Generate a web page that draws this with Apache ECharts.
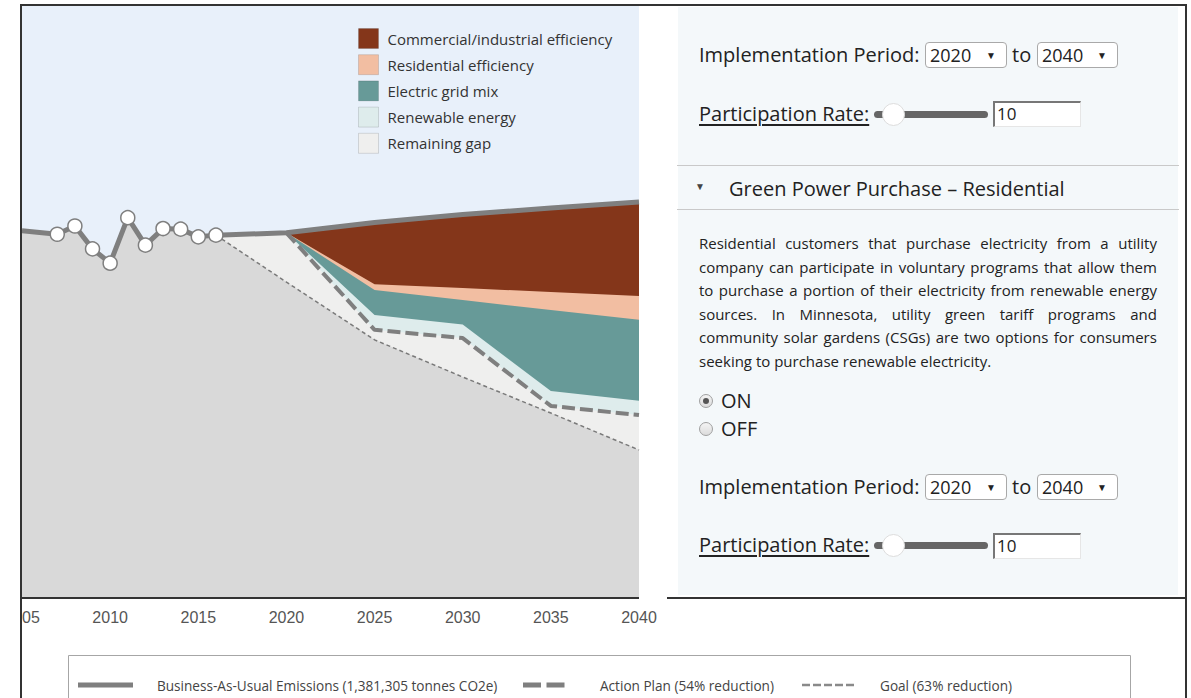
<!DOCTYPE html>
<html>
<head>
<meta charset="utf-8">
<script src="https://cdn.jsdelivr.net/npm/echarts@6/dist/echarts.min.js"></script>
<style>
html,body{margin:0;padding:0;background:#fff;width:1191px;height:698px;overflow:hidden;font-family:'Open Sans',sans-serif;}
#chart{position:absolute;left:22px;top:0;width:1169px;height:698px;}
.ln{position:absolute;background:#333;z-index:6;}
#panel{position:absolute;left:678px;top:7px;width:500px;height:588px;background:#f4f8fa;z-index:4;color:#222;}
.abs{position:absolute;white-space:nowrap;}
.big{font-size:20px;line-height:26px;}
.sel{position:absolute;background:#fff;border:1px solid #a9a9a9;border-radius:4px;height:24px;box-sizing:content-box;font-size:18px;line-height:24px;}
.sel .v{position:absolute;left:4px;top:0;}
.sel .a{position:absolute;right:10px;top:0;font-size:10px;line-height:24px;color:#222;}
.u{text-decoration:underline;text-underline-offset:3px;}
.track{position:absolute;height:7px;background:#666;border-radius:4px;}
.thumb{position:absolute;width:23px;height:23px;border-radius:50%;background:#fff;border:1px solid #ddd;box-sizing:border-box;}
.inp{position:absolute;background:#fff;border-top:2px solid #777;border-left:2px solid #777;border-bottom:1px solid #e6e6e6;border-right:1px solid #e6e6e6;box-sizing:border-box;font-size:17px;line-height:22px;padding-left:2px;}
.sep{position:absolute;left:-1px;width:502px;height:1px;background:#c9c9c9;}
.body{position:absolute;left:21px;width:458px;font-size:15px;line-height:23.6px;}
.jl{display:flex;justify-content:space-between;white-space:nowrap;}
.radio{position:absolute;width:14px;height:14px;border-radius:50%;border:1px solid #a0a0a0;box-sizing:border-box;background:linear-gradient(#f4f4f4,#dcdcdc);}
.radio.on::after{content:'';position:absolute;left:3px;top:3px;width:6px;height:6px;border-radius:50%;background:#555;}
</style>
</head>
<body>
<div id="chart"></div>

<div class="ln" style="left:20px;top:4px;width:2px;height:694px;"></div>
<div class="ln" style="left:20px;top:4px;width:1167px;height:2px;"></div>
<div class="ln" style="left:1185px;top:4px;width:2px;height:694px;"></div>
<div class="ln" style="left:20px;top:597px;width:619px;height:2px;"></div>
<div class="ln" style="left:667px;top:597px;width:520px;height:2px;"></div>

<div id="panel">
  <div class="abs big" style="left:21px;top:35px;">Implementation Period:</div>
  <div class="sel" style="left:247px;top:35px;width:80px;"><span class="v">2020</span><span class="a">&#9660;</span></div>
  <div class="abs big" style="left:334px;top:35px;">to</div>
  <div class="sel" style="left:359px;top:35px;width:79px;"><span class="v">2040</span><span class="a">&#9660;</span></div>

  <div class="abs big u" style="left:21px;top:94px;">Participation Rate:</div>
  <div class="track" style="left:196px;top:104px;width:114px;"></div>
  <div class="thumb" style="left:204px;top:96px;"></div>
  <div class="inp" style="left:315px;top:94px;width:88px;height:26px;">10</div>

  <div class="sep" style="top:158px;"></div>
  <div class="abs" style="left:17px;top:172px;font-size:10px;line-height:14px;color:#444;">&#9660;</div>
  <div class="abs big" style="left:51px;top:169px;">Green Power Purchase – Residential</div>
  <div class="sep" style="top:202px;"></div>

  <div class="body" id="bodytext" style="top:225px;"></div>

  <div class="radio on" style="left:21px;top:387px;"></div>
  <div class="abs big" style="left:43px;top:381px;">ON</div>
  <div class="radio" style="left:21px;top:415px;"></div>
  <div class="abs big" style="left:43px;top:409px;">OFF</div>

  <div class="abs big" style="left:21px;top:467px;">Implementation Period:</div>
  <div class="sel" style="left:247px;top:467px;width:80px;"><span class="v">2020</span><span class="a">&#9660;</span></div>
  <div class="abs big" style="left:334px;top:467px;">to</div>
  <div class="sel" style="left:359px;top:467px;width:79px;"><span class="v">2040</span><span class="a">&#9660;</span></div>

  <div class="abs big u" style="left:21px;top:525px;">Participation Rate:</div>
  <div class="track" style="left:196px;top:535px;width:114px;"></div>
  <div class="thumb" style="left:204px;top:527px;"></div>
  <div class="inp" style="left:315px;top:526px;width:88px;height:26px;">10</div>
</div>

<script>
// ---------- data (tonnes CO2e, thousands) ----------
const histYears = [2005, 2006, 2007, 2008, 2009, 2010, 2011, 2012, 2013, 2014, 2015, 2016];
const bauHistorical = [1280, 1274, 1268, 1297, 1217, 1167, 1326, 1230, 1288, 1286, 1259, 1265];
const markerYears = [2007, 2008, 2009, 2010, 2011, 2012, 2013, 2014, 2015, 2016];
const projYears = [2020, 2025, 2030, 2035, 2040];
const bauProjected = [1273, 1309, 1337, 1360, 1381];
const afterCommercialIndustrial = [1273, 1093, 1080, 1066, 1052];
const afterResidential = [1273, 1073, 1038, 1003, 969];
const afterGridMix = [1273, 986, 953, 720, 686];
const actionPlan = [1273, 934, 905, 668, 636];
const goalPath = [1101, 899, 769, 643, 514];

const areaNames = ['Commercial/industrial efficiency', 'Residential efficiency', 'Electric grid mix', 'Renewable energy', 'Remaining gap'];
const areaColors = ['#84361a', '#f2bea2', '#679a98', '#deecec', '#efefee'];
const lineLegend = ['Business-As-Usual Emissions (1,381,305 tonnes CO2e)', 'Action Plan (54% reduction)', 'Goal (63% reduction)'];

const bodyLines = [
  'Residential customers that purchase electricity from a utility',
  'company can participate in voluntary programs that allow them',
  'to purchase a portion of their electricity from renewable energy',
  'sources. In Minnesota, utility green tariff programs and',
  'community solar gardens (CSGs) are two options for consumers',
  'seeking to purchase renewable electricity.'
];

// ---------- panel text ----------
const bt = document.getElementById('bodytext');
bodyLines.forEach((l, i) => {
  const d = document.createElement('div');
  if (i < bodyLines.length - 1) {
    d.className = 'jl';
    l.split(' ').forEach(w => { const s = document.createElement('span'); s.textContent = w; d.appendChild(s); });
  } else {
    d.textContent = l;
  }
  bt.appendChild(d);
});

// ---------- chart ----------
const zip = (xs, ys) => xs.map((x, i) => [x, ys[i]]);
const hist = zip(histYears, bauHistorical);
const last = hist[hist.length - 1];

function areaSeries(name, color, data, z) {
  return {
    name, type: 'line', data, color, symbol: 'none', z,
    lineStyle: { width: 0 }, areaStyle: { color, opacity: 1 },
    silent: true, animation: false
  };
}

const legendFont = '13.6px "Open Sans"';
const chart = echarts.init(document.getElementById('chart'), null, { renderer: 'svg' });
chart.setOption({
  animation: false,
  grid: { left: 0, top: 6, width: 617, height: 591, show: true, backgroundColor: '#e8f0fa', borderWidth: 0, containLabel: false, outerBoundsMode: 'none' },
  xAxis: {
    type: 'value', min: 2005, max: 2040, interval: 5,
    axisLine: { show: false }, axisTick: { show: false }, splitLine: { show: false },
    axisLabel: { color: '#555', fontSize: 16, fontFamily: 'Liberation Sans, Arial', margin: 12, formatter: v => String(v), showMinLabel: true, showMaxLabel: true }
  },
  yAxis: { type: 'value', min: 0, max: 2066, show: false, splitLine: { show: false } },
  legend: {
    data: areaNames, orient: 'vertical', left: 336, top: 28, padding: 0,
    itemWidth: 20, itemHeight: 20, itemGap: 5.2, icon: 'rect', selectedMode: false,
    itemStyle: { borderColor: 'rgba(0,0,0,0.12)', borderWidth: 1 },
    textStyle: { fontFamily: 'Open Sans', fontSize: 15, color: '#333', padding: [0, 0, 0, 4] }
  },
  graphic: [
    { type: 'rect', shape: { x: 46.5, y: 655.5, width: 1062, height: 60 }, style: { fill: '#fff', stroke: '#a6a6a6', lineWidth: 1 } },
    { type: 'line', shape: { x1: 56, y1: 685, x2: 111, y2: 685 }, style: { stroke: '#7f7f7f', lineWidth: 5 } },
    { type: 'text', x: 135, y: 685, style: { text: lineLegend[0], font: legendFont, fill: '#444', verticalAlign: 'middle' } },
    { type: 'line', shape: { x1: 501, y1: 685, x2: 548, y2: 685 }, style: { stroke: '#7f7f7f', lineWidth: 5, lineDash: [18, 5.5] } },
    { type: 'text', x: 578, y: 685, style: { text: lineLegend[1], font: legendFont, fill: '#444', verticalAlign: 'middle' } },
    { type: 'line', shape: { x1: 780, y1: 685, x2: 835, y2: 685 }, style: { stroke: '#8a8a8a', lineWidth: 2.5, lineDash: [8, 3] } },
    { type: 'text', x: 858, y: 685, style: { text: lineLegend[2], font: legendFont, fill: '#444', verticalAlign: 'middle' } }
  ],
  series: [
    areaSeries(areaNames[0], areaColors[0], zip(projYears, bauProjected), 1),
    areaSeries(areaNames[1], areaColors[1], zip(projYears, afterCommercialIndustrial), 2),
    areaSeries(areaNames[2], areaColors[2], zip(projYears, afterResidential), 3),
    areaSeries(areaNames[3], areaColors[3], zip(projYears, afterGridMix), 4),
    areaSeries(areaNames[4], areaColors[4], [last].concat(zip(projYears, actionPlan)), 5),
    areaSeries('Goal area', '#d9d9d9', hist.concat(zip(projYears, goalPath)), 6),
    {
      name: 'Goal', type: 'line', z: 7, symbol: 'none', silent: true,
      data: [last].concat(zip(projYears, goalPath)),
      lineStyle: { color: '#7a7a7a', width: 1.5, type: [4, 3] }
    },
    {
      name: 'Action Plan', type: 'line', z: 8, symbol: 'none', silent: true,
      data: zip(projYears, actionPlan),
      lineStyle: { color: '#7f7f7f', width: 4, type: [13, 5] }
    },
    {
      name: 'Business-As-Usual Emissions', type: 'line', z: 9, silent: true,
      data: hist.concat(zip(projYears, bauProjected)),
      symbol: 'circle', showSymbol: true, showAllSymbol: true,
      symbolSize: v => markerYears.includes(v[0]) ? 14 : 0,
      itemStyle: { color: '#fff', borderColor: '#7f7f7f', borderWidth: 1.5 },
      lineStyle: { color: '#7f7f7f', width: 5 }
    }
  ]
});
</script>
</body>
</html>
